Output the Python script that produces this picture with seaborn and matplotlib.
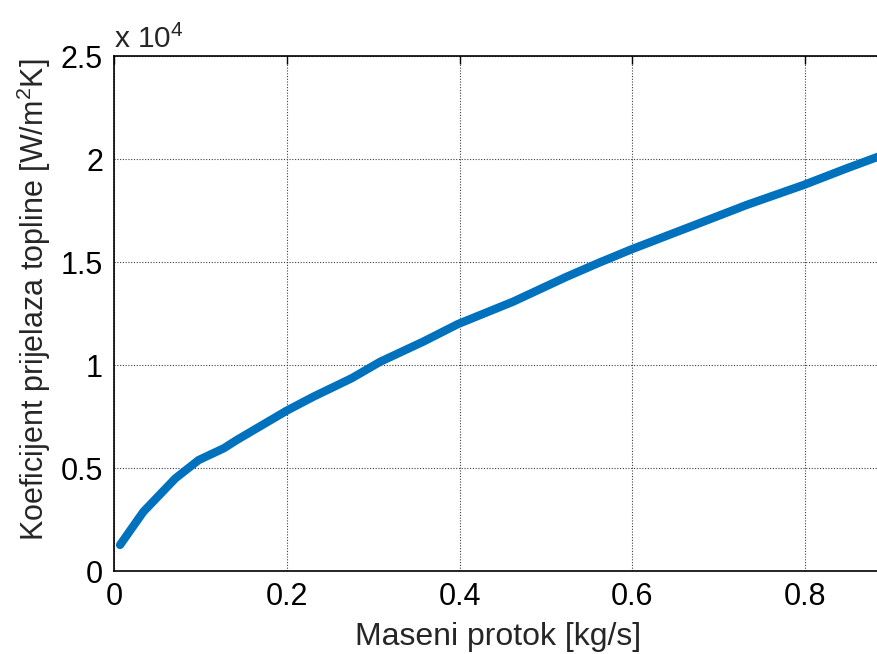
import matplotlib
matplotlib.use("Agg")
import matplotlib.pyplot as plt
import matplotlib.ticker as mticker
import seaborn as sns
import pandas as pd

# maseni protok [kg/s] i koeficijent prijelaza topline [W/m2K], ocitano s grafa
protok = [0.007, 0.034, 0.071, 0.098, 0.127, 0.142, 0.200, 0.231, 0.275,
          0.308, 0.358, 0.398, 0.462, 0.524, 0.562, 0.599, 0.674, 0.732,
          0.798, 0.848, 0.886]
alfa = [1280, 2890, 4510, 5400, 5970, 6370, 7800, 8480, 9370,
        10170, 11150, 12000, 13090, 14300, 14990, 15630, 16840, 17780,
        18750, 19560, 20150]

df = pd.DataFrame({"protok": protok, "alfa": alfa})

sns.set_style("white")
plt.rcParams["font.family"] = ["Liberation Sans", "DejaVu Sans"]
plt.rcParams["mathtext.fontset"] = "custom"
plt.rcParams["mathtext.rm"] = "Liberation Sans"
plt.rcParams["mathtext.it"] = "Liberation Sans:italic"

fig = plt.figure(figsize=(8.77, 6.54), dpi=100)
# os ide preko desnog ruba slike (kao u originalu)
ax = fig.add_axes([114 / 877, (654 - 571.3) / 654, 0.9 * 864 / 877, 515 / 654])

sns.lineplot(data=df, x="protok", y="alfa", ax=ax, color="#0072BD", linewidth=6,
             estimator=None, sort=False)

ax.set_xlim(0, 0.9)
ax.set_ylim(0, 25000)
ax.set_xticks([0, 0.2, 0.4, 0.6, 0.8])
ax.set_yticks([0, 5000, 10000, 15000, 20000, 25000])
ax.xaxis.set_major_formatter(mticker.FuncFormatter(lambda v, p: "%g" % round(v, 2)))
ax.yaxis.set_major_formatter(mticker.FuncFormatter(lambda v, p: "%g" % (v / 1e4)))

ax.grid(True, linestyle=(0, (1, 1.5)), color="#404040", linewidth=0.8)
for s in ax.spines.values():
    s.set_color("black")
    s.set_linewidth(1.2)
ax.tick_params(direction="in", length=6, width=1, colors="black", labelsize=22,
               top=True, right=True)
ax.tick_params(axis="x", pad=8)
ax.tick_params(axis="y", pad=8)

ax.set_xlabel("Maseni protok [kg/s]", fontsize=23, color="#262626",
              ha="center", va="center")
ax.xaxis.set_label_coords(0.494, -0.128)
ax.set_ylabel("Koeficijent prijelaza topline [W/m$^2$K]", fontsize=22,
              color="#262626", ha="center", va="center")
ax.yaxis.set_label_coords(-0.103, 0.527)

fig.text(114 / 877, 1 - 48 / 654, "x 10$^4$", fontsize=21.5, ha="left",
         va="baseline")

fig.savefig("out.png", dpi=100)
